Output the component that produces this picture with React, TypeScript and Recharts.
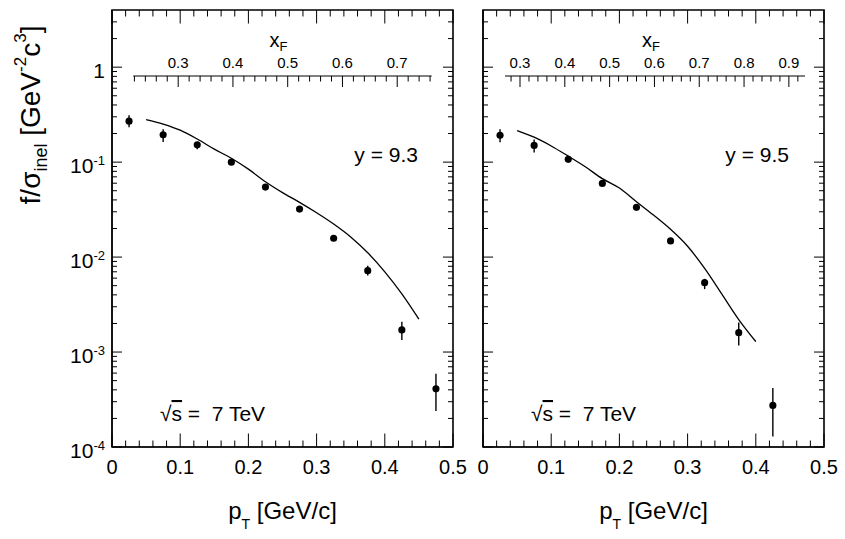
import {
  ComposedChart,
  ErrorBar,
  Label,
  Line,
  ReferenceArea,
  Scatter,
  XAxis,
  YAxis,
  ZAxis,
} from "recharts";

const FONT = "'Liberation Sans', Arial, Helvetica, sans-serif";
const INK = "#000";
const W = 845;
const H = 539;
const PLOT_TOP = 10;
const PLOT_BOTTOM = 447;
const XF_LINE = 76;
// axes get a 1px band (a zero-sized axis is not drawn by recharts)
const AX = 1;

// measured spectrum, y = 9.3 (pT bin centres in GeV/c)
const PT_93 = [0.025, 0.075, 0.125, 0.175, 0.225, 0.275, 0.325, 0.375, 0.425, 0.475];
const F_93 = [0.27, 0.194, 0.152, 0.1, 0.0546, 0.032, 0.0158, 0.0072, 0.00171, 0.00041];
const F_93_LO = [0.233, 0.163, 0.137, 0.096, 0.0525, 0.0307, 0.0151, 0.0064, 0.00134, 0.00024];
const F_93_HI = [0.312, 0.222, 0.163, 0.104, 0.0567, 0.0333, 0.0165, 0.0081, 0.00209, 0.00059];

// measured spectrum, y = 9.5
const PT_95 = [0.025, 0.075, 0.125, 0.175, 0.225, 0.275, 0.325, 0.375, 0.425];
const F_95 = [0.192, 0.15, 0.107, 0.0597, 0.0334, 0.0148, 0.00538, 0.0016, 0.000274];
const F_95_LO = [0.162, 0.126, 0.102, 0.0573, 0.032, 0.0139, 0.0046, 0.00117, 0.000129];
const F_95_HI = [0.222, 0.173, 0.112, 0.0622, 0.0348, 0.0158, 0.0059, 0.00205, 0.000417];

// model curves
const MODEL_PT_93 = [0.05, 0.075, 0.1, 0.125, 0.15, 0.175, 0.2, 0.225, 0.25, 0.275, 0.3, 0.325, 0.35, 0.375, 0.4, 0.425, 0.45];
const MODEL_93 = [0.281, 0.252, 0.217, 0.175, 0.137, 0.11, 0.0844, 0.0621, 0.0477, 0.0377, 0.0293, 0.0223, 0.0163, 0.0111, 0.007, 0.0041, 0.00222];
const MODEL_PT_95 = [0.05, 0.075, 0.1, 0.125, 0.15, 0.175, 0.2, 0.225, 0.25, 0.275, 0.3, 0.325, 0.35, 0.375, 0.4];
const MODEL_95 = [0.215, 0.183, 0.148, 0.1156, 0.0893, 0.067, 0.0533, 0.0383, 0.0277, 0.0196, 0.013, 0.0076, 0.0041, 0.0022, 0.00129];

// axes
const PT_DOMAIN = [0, 0.5];
const Y_DOMAIN = [1e-4, 4];
const Y_DECADES = [-4, -3, -2, -1];
const Y_MANTISSA = [1, 2, 3, 4, 5, 6, 7, 8, 9];
const Y_TICKS = [...Y_DECADES.flatMap((e) => Y_MANTISSA.map((m) => m * 10 ** e)), 1, 2, 3];
const XF_RANGE_93: [number, number] = [0.218, 0.763];
const XF_RANGE_95: [number, number] = [0.2665, 0.936];

type Pt = { pt: number; f: number; err?: [number, number] };

function points(pt: number[], f: number[], lo: number[], hi: number[]): Pt[] {
  return pt.map((x, i) => ({ pt: x, f: f[i], err: [f[i] - lo[i], hi[i] - f[i]] }));
}

function curve(pt: number[], f: number[]): Pt[] {
  return pt.map((x, i) => ({ pt: x, f: f[i] }));
}

// tick positions every `step` inside [lo, hi]
function steps(lo: number, hi: number, step: number) {
  const out: number[] = [];
  for (let i = Math.ceil(lo / step - 1e-9); i * step <= hi + 1e-9; i++) {
    out.push(+(i * step).toFixed(4));
  }
  return out;
}

const PT_TICKS = steps(0, 0.5, 0.02);

const isMajor = (v: number) => Math.abs(v * 10 - Math.round(v * 10)) < 1e-6;
const isDecade = (v: number) =>
  Math.abs(Math.log10(v) - Math.round(Math.log10(v))) < 1e-6;
const fmt = (v: number) => String(Math.round(v * 10) / 10);

// bottom tick plus its mirror on the top edge of the frame
const bottomTick = (p: any) => {
  const v = p.payload.value;
  const major = isMajor(v);
  const len = major ? 13.5 : 6.5;
  return (
    <g>
      <line x1={p.x} x2={p.x} y1={p.y} y2={p.y - len} stroke={INK} />
      <line x1={p.x} x2={p.x} y1={PLOT_TOP} y2={PLOT_TOP + len} stroke={INK} />
      {major && (
        <text x={p.x} y={p.y + 26.5} textAnchor="middle" fontSize={20} fontFamily={FONT} fill={INK}>
          {fmt(v)}
        </text>
      )}
    </g>
  );
};

// left tick plus its mirror on the right edge of the frame
const leftTick = (labels: boolean, rightX: number) => (p: any) => {
  const v = p.payload.value;
  const major = isDecade(v);
  const len = major ? 10 : 5;
  const e = Math.round(Math.log10(v));
  return (
    <g>
      <line x1={p.x} x2={p.x + len} y1={p.y} y2={p.y} stroke={INK} />
      <line x1={rightX} x2={rightX - len} y1={p.y} y2={p.y} stroke={INK} />
      {major && labels && (
        <text x={p.x - 7} y={p.y + 11} textAnchor="end" fontSize={21} fontFamily={FONT} fill={INK}>
          {e === 0 ? "1" : "10"}
          {e !== 0 && <tspan dy={-8} fontSize={13}>{String(e)}</tspan>}
        </text>
      )}
    </g>
  );
};

const xfTick = (p: any) => {
  const v = p.payload.value;
  const major = isMajor(v);
  return (
    <g>
      <line x1={p.x} x2={p.x} y1={p.y} y2={p.y + (major ? 11 : 5.5)} stroke={INK} />
      {major && (
        <text x={p.x} y={p.y - 8} textAnchor="middle" fontSize={15} fontFamily={FONT} fill={INK}>
          {fmt(v)}
        </text>
      )}
    </g>
  );
};

const YTitle = () => (
  <text transform="translate(40,115) rotate(-90)" textAnchor="middle" fontSize={28} fontFamily={FONT} fill={INK}>
    f/σ<tspan dy={7} fontSize={18}>inel</tspan>
    <tspan dy={-7}> [GeV</tspan>
    <tspan dy={-14} fontSize={17}>-2</tspan>
    <tspan dy={14}>c</tspan>
    <tspan dy={-14} fontSize={17}>3</tspan>
    <tspan dy={14}>]</tspan>
  </text>
);

const XTitle = ({ cx }: { cx: number }) => (
  <text x={cx} y={519} textAnchor="middle" fontSize={24} fontFamily={FONT} fill={INK}>
    p<tspan dy={10} fontSize={14}>T</tspan>
    <tspan dy={-10}> [GeV/c]</tspan>
  </text>
);

const Notes = ({ left, tag }: { left: number; tag: string }) => (
  <g fontFamily={FONT} fontSize={21} fill={INK}>
    <text x={left + 306} y={162} textAnchor="end" fill={INK}>
      {tag}
    </text>
    <text x={left + 48} y={421} fill={INK} style={{ whiteSpace: "pre" }}>
      √<tspan textDecoration="overline">s</tspan> =  7 TeV
    </text>
  </g>
);

const XfTitle = ({ cx }: { cx: number }) => (
  <text x={cx - 4} y={47} textAnchor="middle" fontSize={20} fontFamily={FONT} fill={INK}>
    x<tspan dy={4} fontSize={13}>F</tspan>
  </text>
);

type PanelCfg = {
  left: number;
  right: number;
  yLabels: boolean;
  tag: string;
  data: Pt[];
  model: Pt[];
  xfRange: [number, number];
  xfLeft: number;
  xfRight: number;
};

const abs = { position: "absolute" as const, left: 0, top: 0 };

function Panel({ cfg }: { cfg: PanelCfg }) {
  const axesMargin = {
    top: PLOT_TOP,
    bottom: H - PLOT_BOTTOM - AX,
    left: cfg.left - AX,
    right: W - cfg.right,
  };
  const plain = { top: PLOT_TOP, bottom: H - PLOT_BOTTOM, left: cfg.left, right: W - cfg.right };
  const xfTicks = steps(cfg.xfRange[0], cfg.xfRange[1], 0.02);
  const xfRows = xfTicks.map((v) => ({ xf: v }));
  return (
    <>
      {/* frame, measured points and model curve */}
      <div style={abs}>
        <ComposedChart width={W} height={H} margin={plain}>
          <XAxis xAxisId="pt" dataKey="pt" type="number" domain={PT_DOMAIN} allowDataOverflow hide />
          <YAxis yAxisId="y" dataKey="f" type="number" scale="log" domain={Y_DOMAIN} allowDataOverflow hide />
          <ZAxis range={[40, 40]} />
          <ReferenceArea
            xAxisId="pt"
            yAxisId="y"
            x1={PT_DOMAIN[0]}
            x2={PT_DOMAIN[1]}
            y1={Y_DOMAIN[0]}
            y2={Y_DOMAIN[1]}
            ifOverflow="visible"
            fill="none"
            fillOpacity={0}
            stroke={INK}
            strokeWidth={1.6}
          />
          <Line
            data={cfg.model}
            dataKey="f"
            xAxisId="pt"
            yAxisId="y"
            type="monotone"
            stroke={INK}
            strokeWidth={1.3}
            dot={false}
            isAnimationActive={false}
          />
          <Scatter data={cfg.data} dataKey="f" xAxisId="pt" yAxisId="y" fill={INK} isAnimationActive={false}>
            <ErrorBar dataKey="err" direction="y" width={0} stroke={INK} strokeWidth={1.4} />
          </Scatter>
        </ComposedChart>
      </div>
      {/* x_F scale inside the frame, plus titles */}
      <div style={abs}>
        <ComposedChart
          width={W}
          height={H}
          data={xfRows}
          margin={{ top: XF_LINE - AX, bottom: 20, left: cfg.xfLeft, right: W - cfg.xfRight }}
        >
          <XAxis
            xAxisId="xf"
            dataKey="xf"
            orientation="top"
            type="number"
            domain={cfg.xfRange}
            allowDataOverflow
            ticks={xfTicks}
            interval={0}
            height={AX}
            tickSize={0}
            tickMargin={0}
            tickLine={false}
            tick={xfTick}
            stroke={INK}
            strokeWidth={1.2}
          >
            <Label content={() => <XfTitle cx={(cfg.xfLeft + cfg.xfRight) / 2} />} />
            <Label content={() => <XTitle cx={(cfg.left + cfg.right) / 2} />} />
            <Label content={() => <Notes left={cfg.left} tag={cfg.tag} />} />
            {cfg.yLabels && <Label content={() => <YTitle />} />}
          </XAxis>
        </ComposedChart>
      </div>
      {/* pT and f/sigma axes: ticks on all four sides of the frame */}
      <div style={abs}>
        <ComposedChart width={W} height={H} data={cfg.data} margin={axesMargin}>
          <XAxis
            xAxisId="pt"
            dataKey="pt"
            type="number"
            domain={PT_DOMAIN}
            allowDataOverflow
            ticks={PT_TICKS}
            interval={0}
            height={AX}
            tickSize={0}
            tickMargin={0}
            tickLine={false}
            tick={bottomTick}
            stroke={INK}
            strokeWidth={1.2}
          />
          <YAxis
            yAxisId="y"
            dataKey="f"
            type="number"
            scale="log"
            domain={Y_DOMAIN}
            allowDataOverflow
            ticks={Y_TICKS}
            interval={0}
            width={AX}
            tickSize={0}
            tickMargin={0}
            tickLine={false}
            tick={leftTick(cfg.yLabels, cfg.right)}
            stroke={INK}
            strokeWidth={1.2}
          />
        </ComposedChart>
      </div>
    </>
  );
}

const LEFT: PanelCfg = {
  left: 112,
  right: 453,
  yLabels: true,
  tag: "y = 9.3",
  data: points(PT_93, F_93, F_93_LO, F_93_HI),
  model: curve(MODEL_PT_93, MODEL_93),
  xfRange: XF_RANGE_93,
  xfLeft: 133.3,
  xfRight: 431.7,
};

const RIGHT: PanelCfg = {
  left: 483,
  right: 824,
  yLabels: false,
  tag: "y = 9.5",
  data: points(PT_95, F_95, F_95_LO, F_95_HI),
  model: curve(MODEL_PT_95, MODEL_95),
  xfRange: XF_RANGE_95,
  xfLeft: 505,
  xfRight: 805,
};

export default function App() {
  return (
    <div style={{ ...abs, width: W, height: H, background: "#fff", fontFamily: FONT }}>
      <Panel cfg={LEFT} />
      <Panel cfg={RIGHT} />
    </div>
  );
}
